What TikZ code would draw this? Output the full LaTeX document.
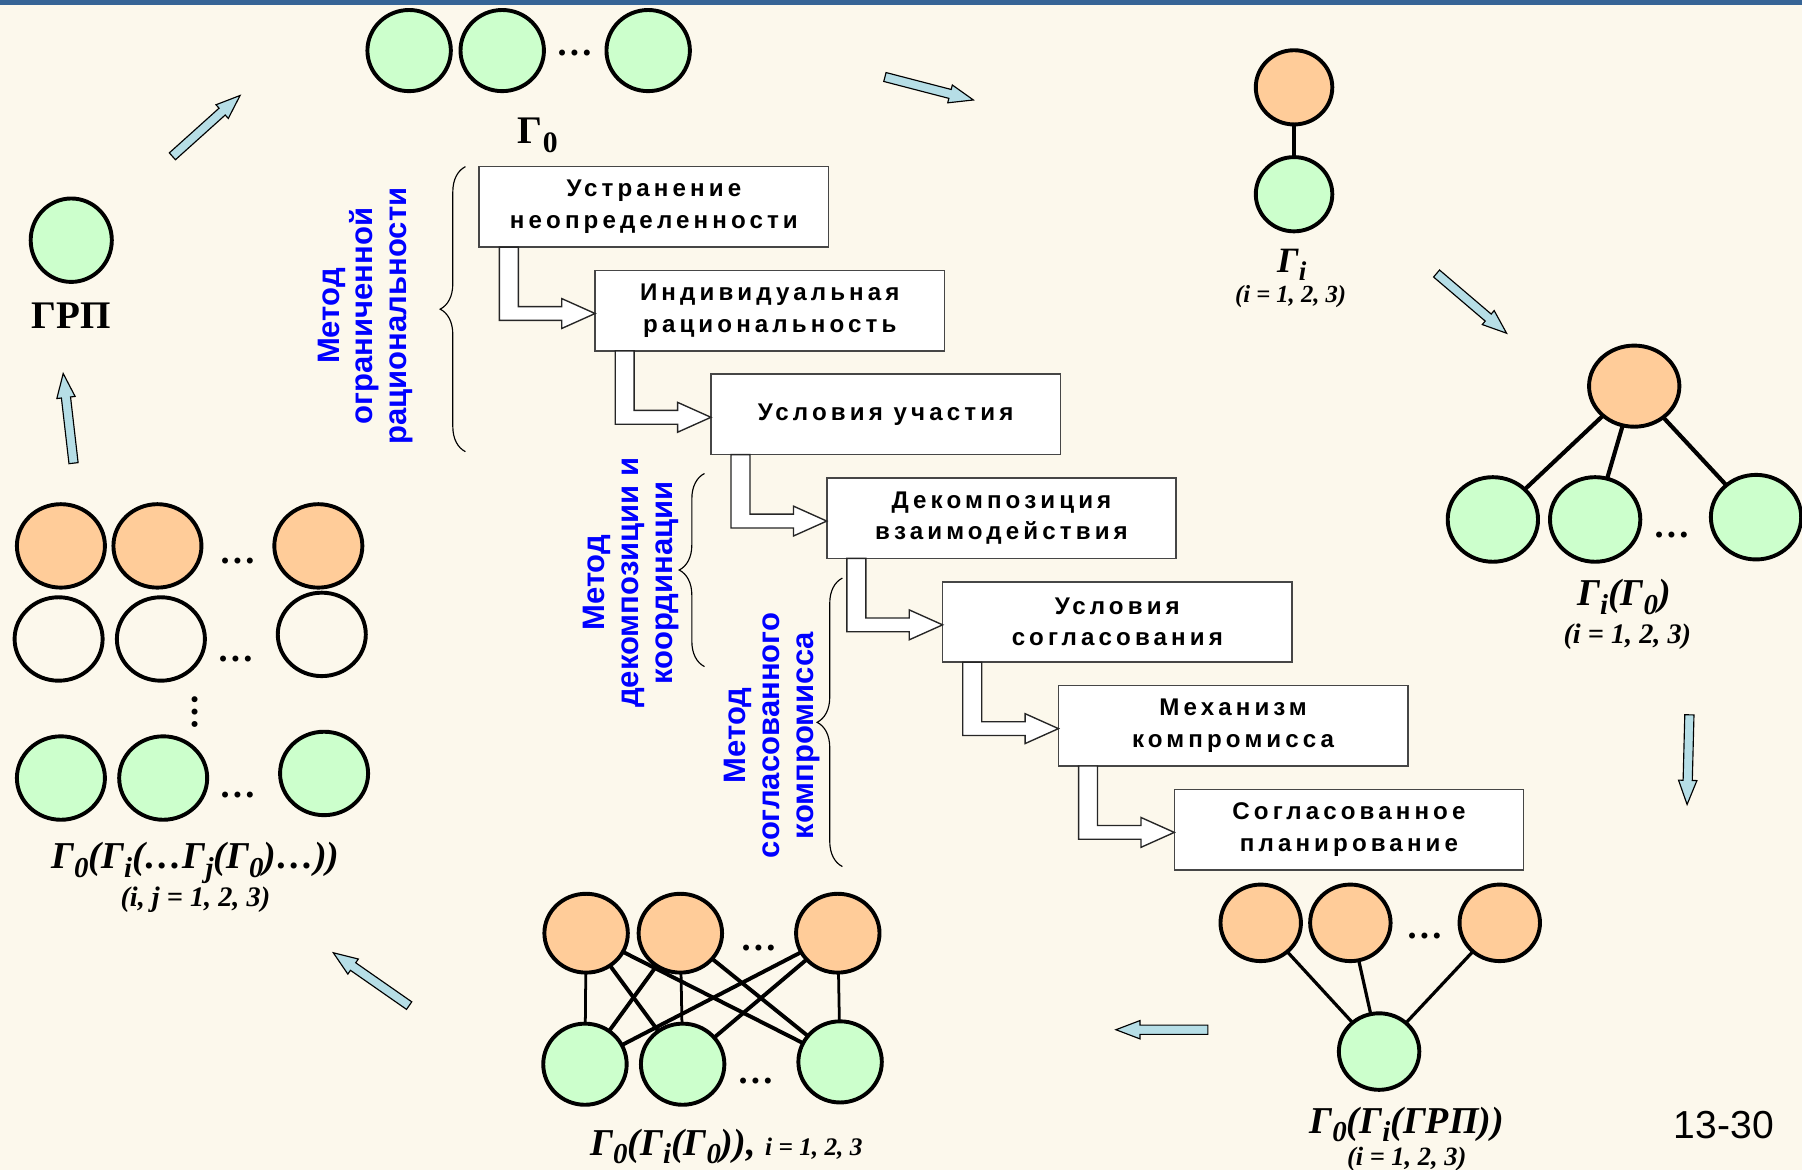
\documentclass[tikz,border=0pt]{standalone}
\usepackage{fontspec}
\usepackage{graphicx}
\setmainfont{Liberation Serif}
\newfontfamily\boxfont{Liberation Sans}[LetterSpace=17]
\newfontfamily\sansf{Liberation Sans}
\usetikzlibrary{shapes.geometric,calc,decorations.pathreplacing}

\definecolor{bgc}{RGB}{252,248,236}
\definecolor{barc}{RGB}{54,100,150}
\definecolor{grn}{RGB}{204,255,204}
\definecolor{org}{RGB}{255,204,153}
\definecolor{arrc}{RGB}{182,222,230}
\definecolor{boxline}{RGB}{70,70,70}
\definecolor{lblue}{RGB}{0,0,255}

\newcommand\lo[1]{\raisebox{-0.22em}{\scalebox{0.76}{#1}}}

\newcommand\blockarrow[2]{%
  \pgfpointdiff{\pgfpointanchor{#1}{center}}{\pgfpointanchor{#2}{center}}%
  \pgfgetlastxy{\bax}{\bay}%
  \pgfmathsetmacro\baang{atan2(\bay,\bax)}%
  \pgfmathsetmacro\balen{veclen(\bax,\bay)}%
  \draw[barr,shift={(#1)},rotate=\baang] (0pt,-2pt) -- ({\balen pt-10.5pt},-2pt) -- ({\balen pt-10.5pt},-4pt) -- (\balen pt,0pt) -- ({\balen pt-10.5pt},4pt) -- ({\balen pt-10.5pt},2pt) -- (0pt,2pt) -- cycle;}

\newcommand\stepar[2]{%
  \draw[hol] ($(#1.south west)+(17.5,0)$) |- ($(#2.west)+(-29,8.5)$) -- ++(0,7) -- ($(#2.west)+(0,2.5)$) -- ($(#2.west)+(-29,-10.5)$) -- ++(0,7) -| ($(#1.south west)+(34,0)$) -- cycle;}

\begin{document}
\begin{tikzpicture}[x=0.5pt,y=-0.5pt,
  every node/.style={inner sep=0pt, outer sep=0pt},
  circ/.style={ellipse, draw=black, line width=1.7pt},
  gc/.style={circ, fill=grn},
  oc/.style={circ, fill=org},
  wc/.style={circ},
  sz/.style n args={2}{minimum width=#1pt, minimum height=#2pt},
  ed/.style={line width=1.8pt},
  edt/.style={line width=1.4pt},
  edv/.style={line width=1.2pt},
  edd/.style={line width=1.7pt},
  tbox/.style={rectangle, draw=boxline, line width=0.65pt, fill=white, anchor=north west,
    minimum width=152pt, minimum height=35pt, align=center,
    font=\boxfont\bfseries\fontsize{10.5pt}{13.7pt}\selectfont},
  hol/.style={fill=white, draw=black!85, line width=0.6pt},
  barr/.style={fill=arrc, draw=black, line width=0.5pt},
  brc/.style={decorate, decoration={brace, amplitude=11pt}, line width=0.5pt},
  blbl/.style={rotate=90, text=lblue, align=center,
    font=\sansf\bfseries\fontsize{13.5pt}{14.75pt}\selectfont},
  gup/.style={font=\fontsize{17pt}{20pt}\selectfont\bfseries, anchor=base},
  gi/.style={font=\fontsize{16.5pt}{18pt}\selectfont\bfseries\itshape, anchor=base},
  gis/.style={font=\fontsize{#1pt}{13pt}\selectfont\bfseries\itshape, anchor=base},
  dts/.style={font=\fontsize{16pt}{16pt}\selectfont\bfseries, anchor=base},
]
\useasboundingbox (0,0) rectangle (1568,1018);
\fill[bgc] (0,0) rectangle (1568,1018);
\fill[barc] (0,0) rectangle (1568,4);

% ---- top: Gamma_0
\node[gc, sz={36.3}{35.3}] (t1) at (356,44) {};
\node[gc, sz={36.3}{35.3}] (t2) at (437,44) {};
\node[gc, sz={36.3}{35.3}] (t3) at (564,44) {};
\node[dts] (tdots) at (500,48) {…};
\node[gup] (lg0) at (468,125) {Γ\lo{0}};

% ---- GRP
\node[gc, sz={35.3}{36.3}] (grp) at (62,209) {};
\node[gup] (lgrp) at (62,286) {ГРП};

% ---- Gamma_i
\node[oc, sz={33.3}{32.3}] (gio) at (1126,76) {};
\node[gc, sz={33.3}{32.3}] (gig) at (1126,169) {};
\draw[ed] (gio) -- (gig);
\node[gi, font=\fontsize{15.5pt}{18pt}\selectfont\bfseries\itshape] (lgi) at (1124,237) {Γ\lo{i}};
\node[gis=10.7] (lgii) at (1123,263) {(i = 1, 2, 3)};

% ---- Gamma_i(Gamma_0)
\node[oc, sz={39.3}{35.3}] (tgo) at (1422,336) {};
\node[gc, sz={39.3}{36.8}] (tg1) at (1299,452) {};
\node[gc, sz={39.3}{36.8}] (tg2) at (1388,452) {};
\node[gc, sz={39.3}{36.8}] (tg3) at (1528,450) {};
\node[dts] (tgdots) at (1455,468) {…};
\draw[ed] (tgo) -- (tg1);
\draw[ed] (tgo) -- (tg2);
\draw[ed] (tgo) -- (tg3);
\node[gi] (lgig) at (1413,527) {Γ\lo{i}(Γ\lo{0})};
\node[gis=12.3] (lgigi) at (1416,560) {(i = 1, 2, 3)};

% ---- Gamma_0(Gamma_i(GRP))
\node[oc, sz={35}{33.3}] (bro1) at (1097,803) {};
\node[oc, sz={35}{33.3}] (bro2) at (1175,803) {};
\node[oc, sz={35}{33.3}] (bro3) at (1305,803) {};
\node[gc, sz={35}{33.3}] (brg) at (1200,915) {};
\node[dts] (brdots) at (1240,817) {…};
\draw[edt] (bro1) -- (brg);
\draw[edt] (bro2) -- (brg);
\draw[edt] (bro3) -- (brg);
\node[gi] (lgr) at (1224,986) {Γ\lo{0}(Γ\lo{i}(ГРП))};
\node[gis=11.5] (lgri) at (1224,1014) {(i = 1, 2, 3)};

% ---- Gamma_0(Gamma_i(Gamma_0))
\node[oc, sz={36.3}{34.3}] (bco1) at (510,812) {};
\node[oc, sz={36.3}{34.3}] (bco2) at (592,812) {};
\node[oc, sz={36.3}{34.3}] (bco3) at (729,812) {};
\node[gc, sz={36.3}{35.3}] (bcg1) at (509,926) {};
\node[gc, sz={36.3}{35.3}] (bcg2) at (594,926) {};
\node[gc, sz={36.3}{35.3}] (bcg3) at (731,924) {};
\node[dts] (bcdots1) at (660,827) {…};
\node[dts] (bcdots2) at (658,943) {…};
\draw[edv] (bco1) -- (bcg1);
\draw[edv] (bco2) -- (bcg2);
\draw[edv] (bco3) -- (bcg3);
\draw[edd] (bco1) -- (bcg2);
\draw[edd] (bco1) -- (bcg3);
\draw[edd] (bco2) -- (bcg1);
\draw[edd] (bco2) -- (bcg3);
\draw[edd] (bco3) -- (bcg1);
\draw[edd] (bco3) -- (bcg2);
\node[gi] (lgb) at (632,1005) {Γ\lo{0}(Γ\lo{i}(Γ\lo{0})), {\fontsize{11pt}{12pt}\selectfont i = 1, 2, 3}};

% ---- left grid
\node[oc, sz={38.3}{36.3}] (l11) at (53,475) {};
\node[oc, sz={38.3}{36.3}] (l12) at (137,475) {};
\node[oc, sz={38.3}{36.3}] (l13) at (277,475) {};
\node[wc, sz={38.3}{36.3}] (l21) at (51,556) {};
\node[wc, sz={38.3}{36.3}] (l22) at (140,556) {};
\node[wc, sz={38.3}{36.3}] (l23) at (280,552) {};
\node[gc, sz={38.3}{36.3}] (l31) at (53,677) {};
\node[gc, sz={38.3}{36.3}] (l32) at (142,677) {};
\node[gc, sz={38.3}{36.3}] (l33) at (282,673) {};
\node[dts] (ld1) at (207,490) {…};
\node[dts] (ld2) at (205,576) {…};
\node[dts] (ld3) at (207,694) {…};
\node[dts, rotate=90] (ldv) at (172,620) {…};
\node[gi] (lgl) at (170,756) {Γ\lo{0}(Γ\lo{i}(…Γ\lo{j}(Γ\lo{0})…))};
\node[gis=12.3] (lgli) at (170,789) {(i, j = 1, 2, 3)};

% ---- page number
\node[font=\sansf\fontsize{17pt}{20pt}\selectfont, anchor=base] (pg) at (1500,991) {13-30};

% ---- boxes
\node[tbox] (b1) at (417,145) {Устранение\\неопределенности};
\node[tbox] (b2) at (517.8,235.3) {Индивидуальная\\рациональность};
\node[tbox] (b3) at (618.6,325.6) {Условия участия};
\node[tbox] (b4) at (719.4,415.9) {Декомпозиция\\взаимодействия};
\node[tbox] (b5) at (820.2,506.2) {Условия\\согласования};
\node[tbox] (b6) at (921,596.5) {Механизм\\компромисса};
\node[tbox] (b7) at (1021.8,686.8) {Согласованное\\планирование};
\stepar{b1}{b2}
\stepar{b2}{b3}
\stepar{b3}{b4}
\stepar{b4}{b5}
\stepar{b5}{b6}
\stepar{b6}{b7}

% ---- braces and method labels
\draw[brc] (405,393) -- (405,145);
\draw[brc] (613,580) -- (613,412);
\draw[brc] (733,754) -- (733,503);
\node[blbl] (m1) at (318,275) {Метод\\ограниченной\\рациональности};
\node[blbl] (m2) at (549,507) {Метод\\декомпозиции и\\координации};
\node[blbl] (m3) at (672,640) {Метод\\согласованного\\компромисса};

% ---- cycle arrows
\coordinate (a1s) at (150,136); \coordinate (a1e) at (209,83);
\coordinate (a2s) at (770,67); \coordinate (a2e) at (847,87);
\coordinate (a3s) at (1250,238); \coordinate (a3e) at (1311,290);
\coordinate (a4s) at (1470,622); \coordinate (a4e) at (1468,700);
\coordinate (a5s) at (1051,896); \coordinate (a5e) at (971,896);
\coordinate (a6s) at (356,875); \coordinate (a6e) at (290,829);
\coordinate (a7s) at (64,403); \coordinate (a7e) at (55,325);
\blockarrow{a1s}{a1e}
\blockarrow{a2s}{a2e}
\blockarrow{a3s}{a3e}
\blockarrow{a4s}{a4e}
\blockarrow{a5s}{a5e}
\blockarrow{a6s}{a6e}
\blockarrow{a7s}{a7e}
\end{tikzpicture}
\end{document}
